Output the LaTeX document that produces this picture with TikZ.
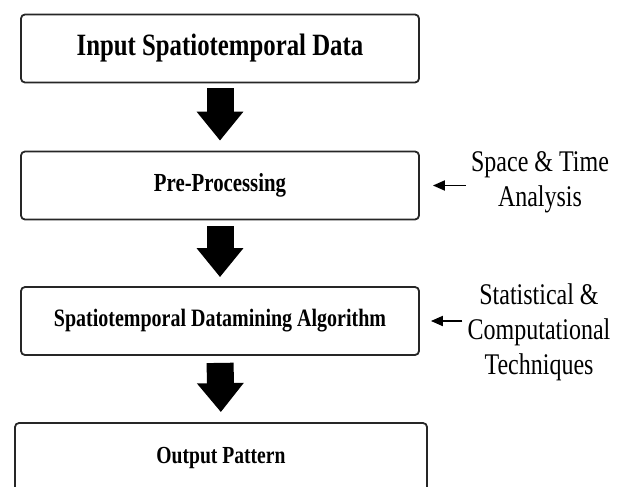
\documentclass[tikz,border=0pt]{standalone}
\usepackage{fontspec}
\setmainfont[FakeStretch=0.8]{Liberation Serif}
\usetikzlibrary{arrows.meta}
\begin{document}
\begin{tikzpicture}[x=1pt,y=-1pt,
  stage/.style={draw=black!85, line width=1.8pt, rounded corners=4pt, minimum width=398pt, minimum height=68pt, inner sep=0pt, fill=white},
  blockarrow/.style={line width=27pt, -{Triangle[width=45pt,length=29pt]}, draw=black},
  sidearrow/.style={line width=1.8pt, -{Triangle[width=10pt,length=12pt]}, draw=black},
  sidelabel/.style={align=center, inner sep=0pt, font=\fontsize{30}{35}\selectfont}]
\useasboundingbox (0,0) rectangle (627,487);
\clip (0,0) rectangle (627,487);
\node[stage, font=\bfseries\fontsize{31}{34}\selectfont] (in) at (220,48.5) {Input Spatiotemporal Data};
\node[stage, font=\bfseries\fontsize{26}{30}\selectfont] (pre) at (220,185.5) {Pre-Processing};
\node[stage, font=\bfseries\fontsize{25}{30}\selectfont] (alg) at (220,321) {Spatiotemporal Datamining Algorithm};
\node[stage, minimum width=412pt, minimum height=70pt, font=\bfseries\fontsize{24.5}{30}\selectfont] (out) at (221,458) {Output Pattern};
\draw[blockarrow, shorten <=5pt, shorten >=10pt] (in.south) -- (pre.north);
\draw[blockarrow, shorten <=6pt, shorten >=9pt] (pre.south) -- (alg.north);
\draw[blockarrow, shorten <=7pt, shorten >=10pt] (alg.south) -- (out.north);
\node[sidelabel] (sta) at (540,182) {Space \& Time\\Analysis};
\node[sidelabel] (sct) at (539,332) {Statistical \&\\Computational\\Techniques};
\draw[sidearrow, shorten <=5pt, shorten >=13pt] (sta.west |- pre.east) -- (pre.east);
\draw[sidearrow, shorten <=5pt, shorten >=11pt] (sct.west |- alg.east) -- (alg.east);
\end{tikzpicture}
\end{document}
